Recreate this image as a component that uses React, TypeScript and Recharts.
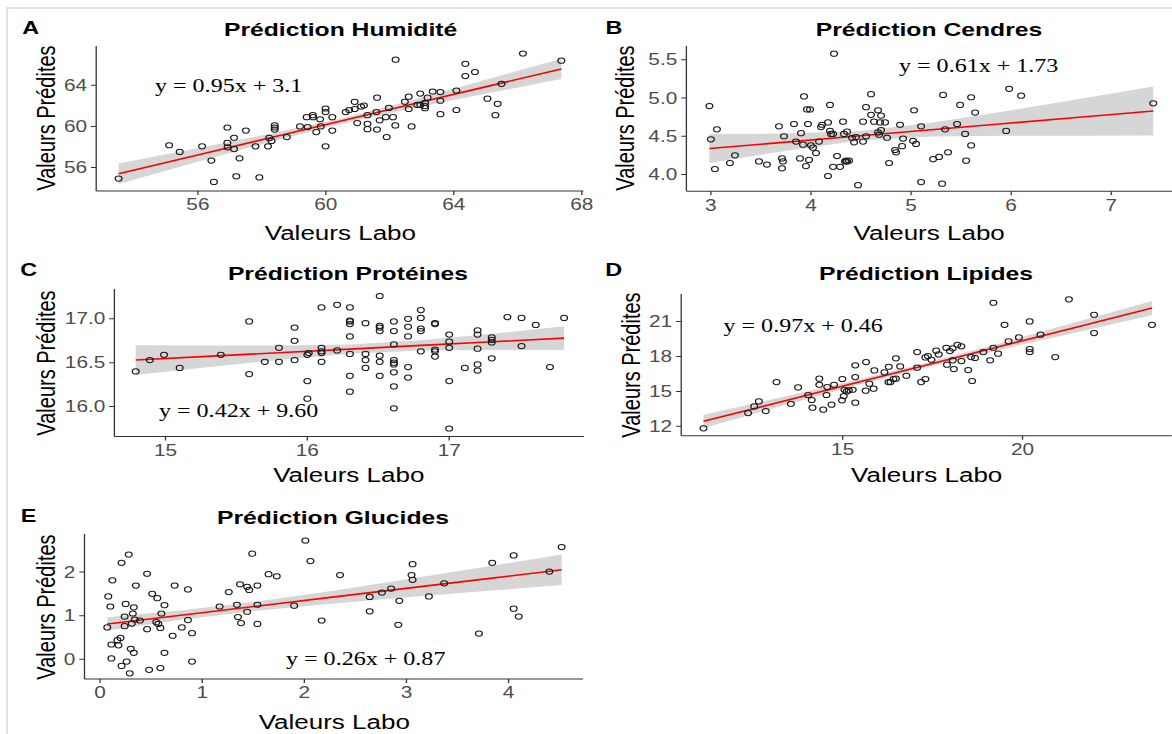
import { Area, ComposedChart, Line, Scatter, XAxis, YAxis } from "recharts";

// horizontal stretch of the whole figure (the reference is a widened image)
const SX = 1.3;
const SANS = '"Liberation Sans", Arial, sans-serif';
const SERIF = '"Liberation Serif", "Times New Roman", serif';

// [labo, predicted]
const humiditePoints = [
  [53.52, 54.93], [55.1, 58.17], [55.43, 57.52], [56.13, 58.07], [56.42, 56.68], [56.5, 54.6],
  [56.92, 59.9], [56.92, 58.4], [56.93, 57.97], [57.13, 58.9], [57.13, 57.8], [57.2, 55.15],
  [57.3, 56.9], [57.5, 59.6], [57.8, 58.07], [57.92, 55.04], [58.19, 58.07], [58.23, 58.88],
  [58.3, 58.59], [58.4, 60.1], [58.4, 59.9], [58.4, 59.7], [58.78, 58.97], [59.19, 60],
  [59.4, 60.9], [59.43, 59.94], [59.59, 61.1], [59.6, 60.9], [59.7, 59.45], [59.82, 60.7],
  [59.84, 60], [59.99, 61.75], [59.99, 61.4], [59.99, 58.07], [60.2, 60.9], [60.2, 59.6],
  [60.62, 61.4], [60.73, 61.6], [60.9, 62.4], [60.9, 61.7], [60.98, 60.33], [61.1, 61.94],
  [61.19, 62.04], [61.3, 61.1], [61.3, 60.26], [61.3, 59.74], [61.58, 61.4], [61.6, 62.8],
  [61.6, 59.7], [61.68, 60.6], [61.87, 60.9], [61.9, 58.97], [61.97, 61.8], [62.1, 60.9],
  [62.17, 60.1], [62.18, 66.5], [62.47, 62.4], [62.59, 62.9], [62.59, 61.7], [62.68, 60],
  [62.86, 62.1], [62.95, 63.2], [62.95, 62.1], [63.1, 62.3], [63.1, 61.98], [63.1, 61.78],
  [63.18, 62.8], [63.34, 63.4], [63.58, 63.35], [63.58, 62.5], [63.58, 61.2], [64.08, 63.5],
  [64.08, 61.6], [64.36, 66.1], [64.36, 64.9], [64.66, 65.3], [65.05, 62.7], [65.3, 61.1],
  [65.37, 62.2], [65.49, 64.15], [66.16, 67.1], [67.36, 66.4],
];

const cendresPoints = [
  [2.985, 4.895], [3.0, 4.46], [3.04, 4.07], [3.06, 4.59], [3.19, 4.15], [3.24, 4.25],
  [3.48, 4.17], [3.56, 4.13], [3.68, 4.63], [3.71, 4.21], [3.72, 4.17], [3.71, 4.08],
  [3.73, 4.5], [3.83, 4.66], [3.85, 4.43], [3.9, 4.54], [3.89, 4.21], [3.92, 4.39],
  [3.93, 5.02], [3.95, 4.11], [3.96, 4.85], [3.97, 4.66], [3.98, 4.19], [3.99, 4.85],
  [4.0, 4.38], [4.02, 4.35], [4.05, 4.28], [4.08, 4.43], [4.1, 4.62], [4.11, 4.65],
  [4.17, 3.98], [4.17, 4.68], [4.19, 4.91], [4.19, 4.57], [4.2, 4.53], [4.22, 4.1],
  [4.23, 5.58], [4.22, 4.53], [4.26, 4.24], [4.29, 4.1], [4.32, 4.69], [4.33, 4.53],
  [4.34, 4.17], [4.35, 4.18], [4.36, 4.56], [4.36, 4.17], [4.38, 4.18], [4.41, 4.48],
  [4.43, 4.42], [4.45, 4.49], [4.47, 3.86], [4.52, 4.43], [4.52, 4.69], [4.55, 4.5],
  [4.55, 4.88], [4.6, 5.05], [4.6, 4.78], [4.63, 4.69], [4.67, 4.84], [4.67, 4.55],
  [4.68, 4.52], [4.69, 4.68], [4.7, 4.77], [4.7, 4.58], [4.74, 4.68], [4.76, 4.48],
  [4.78, 4.15], [4.84, 4.32], [4.85, 4.29], [4.89, 4.65], [4.91, 4.37], [4.92, 4.47],
  [5.03, 4.84], [5.02, 4.44], [5.05, 4.4], [5.1, 3.9], [5.1, 4.63], [5.22, 4.2],
  [5.28, 4.23], [5.32, 5.04], [5.31, 3.88], [5.34, 4.59], [5.37, 4.29], [5.46, 4.66],
  [5.49, 4.91], [5.54, 4.53], [5.55, 4.18], [5.6, 5.01], [5.6, 4.38], [5.64, 4.81],
  [5.95, 4.57], [5.98, 5.12], [6.1, 5.03], [7.42, 4.93],
];

const proteinesPoints = [
  [14.79, 16.4], [14.89, 16.53], [14.99, 16.59], [15.1, 16.44], [15.39, 16.59], [15.59, 16.97],
  [15.59, 16.37], [15.7, 16.51], [15.8, 16.67], [15.8, 16.51], [15.91, 16.9], [15.91, 16.75],
  [15.91, 16.53], [16.0, 16.59], [16.0, 16.29], [16.0, 16.09], [16.01, 16.61], [16.1, 17.13],
  [16.1, 16.67], [16.1, 16.63], [16.1, 16.61], [16.1, 16.51], [16.21, 17.16], [16.21, 16.64],
  [16.3, 17.13], [16.3, 16.98], [16.3, 16.97], [16.3, 16.94], [16.3, 16.8], [16.3, 16.6],
  [16.3, 16.35], [16.3, 16.17], [16.41, 16.95], [16.41, 16.6], [16.41, 16.53], [16.41, 16.44],
  [16.51, 17.26], [16.51, 16.92], [16.51, 16.9], [16.51, 16.86], [16.51, 16.58], [16.51, 16.51],
  [16.51, 16.35], [16.61, 16.97], [16.61, 16.86], [16.61, 16.71], [16.61, 16.53], [16.61, 16.5],
  [16.61, 16.48], [16.61, 16.39], [16.61, 16.23], [16.61, 15.98], [16.71, 17.0], [16.71, 16.91],
  [16.71, 16.8], [16.71, 16.45], [16.71, 16.33], [16.8, 17.1], [16.8, 17.01], [16.8, 16.89],
  [16.8, 16.86], [16.8, 16.63], [16.9, 16.95], [16.9, 16.94], [16.9, 16.65], [16.9, 16.63],
  [16.9, 16.57], [17.0, 16.82], [17.0, 16.74], [17.0, 16.67], [17.0, 16.29], [17.0, 15.75],
  [17.11, 16.44], [17.2, 16.87], [17.2, 16.82], [17.2, 16.66], [17.2, 16.48], [17.2, 16.41],
  [17.3, 16.79], [17.3, 16.76], [17.3, 16.73], [17.3, 16.55], [17.41, 17.02], [17.51, 17.01],
  [17.51, 16.69], [17.61, 16.93], [17.71, 16.45], [17.81, 17.01],
];

const lipidesPoints = [
  [11.13, 11.83], [12.37, 13.14], [12.54, 13.71], [12.67, 14.14], [12.86, 13.31], [13.16, 15.8],
  [13.56, 13.94], [13.76, 15.34], [14.04, 14.69], [14.14, 14.26], [14.16, 13.6], [14.35, 16.09],
  [14.35, 15.57], [14.46, 13.43], [14.55, 14.69], [14.57, 15.37], [14.69, 13.86], [14.76, 15.57],
  [14.98, 14.23], [14.99, 16.06], [15.03, 14.6], [15.05, 15.14], [15.11, 15.0], [15.17, 15.09],
  [15.28, 15.14], [15.35, 17.23], [15.35, 16.23], [15.35, 14.03], [15.64, 15.06], [15.65, 17.51],
  [15.74, 15.66], [15.86, 15.23], [15.88, 16.8], [16.16, 16.63], [16.28, 17.11], [16.27, 15.8],
  [16.33, 15.8], [16.41, 16.06], [16.48, 17.83], [16.48, 16.09], [16.6, 17.14], [16.77, 16.34],
  [17.07, 18.37], [17.07, 17.03], [17.18, 15.8], [17.3, 17.91], [17.3, 16.06], [17.37, 18.03],
  [17.47, 17.71], [17.6, 18.49], [17.67, 18.17], [17.88, 18.74], [17.9, 17.29], [17.98, 18.46],
  [18.06, 17.66], [18.09, 16.91], [18.06, 18.69], [18.19, 19.0], [18.3, 18.86], [18.3, 17.6],
  [18.49, 16.83], [18.57, 17.94], [18.6, 15.89], [18.68, 17.86], [18.91, 18.37], [19.1, 17.66],
  [19.19, 22.6], [19.19, 18.74], [19.32, 18.23], [19.5, 20.71], [19.61, 19.29], [19.9, 19.63],
  [20.2, 21.0], [20.2, 18.63], [20.2, 18.37], [20.5, 19.86], [20.91, 17.94], [21.29, 22.89],
  [21.99, 21.57], [21.99, 20.0], [23.6, 20.71],
];

const glucidesPoints = [
  [0.07, 0.73], [0.08, 1.44], [0.1, 1.21], [0.11, 0.02], [0.11, 0.34], [0.12, 1.81],
  [0.17, 0.44], [0.18, 0.32], [0.2, 0.49], [0.21, 2.21], [0.21, -0.15], [0.24, 0.76],
  [0.24, 0.98], [0.25, 1.27], [0.26, -0.05], [0.28, 2.4], [0.29, -0.32], [0.3, 0.24],
  [0.31, 0.82], [0.32, 1.05], [0.33, 1.19], [0.33, 0.15], [0.34, 0.91], [0.35, 1.69],
  [0.39, 0.89], [0.46, 1.96], [0.46, 0.69], [0.48, -0.24], [0.51, 1.5], [0.55, 0.85],
  [0.56, 1.4], [0.57, 0.81], [0.59, 0.72], [0.59, -0.2], [0.6, 1.05], [0.63, 1.24],
  [0.63, 0.15], [0.71, 0.54], [0.73, 1.69], [0.8, 0.73], [0.86, 1.6], [0.86, 0.9],
  [0.9, 0.6], [0.9, -0.05], [1.17, 1.21], [1.26, 1.54], [1.34, 1.25], [1.35, 0.97],
  [1.37, 1.72], [1.38, 0.83], [1.44, 1.09], [1.44, 1.66], [1.46, 1.59], [1.49, 2.42],
  [1.54, 1.69], [1.54, 1.25], [1.54, 0.81], [1.65, 1.95], [1.73, 1.9], [1.9, 1.23],
  [2.01, 2.72], [2.06, 2.25], [2.17, 0.89], [2.35, 1.93], [2.64, 1.43], [2.64, 1.1],
  [2.76, 1.53], [2.85, 1.62], [2.92, 0.79], [2.93, 1.34], [3.05, 1.93], [3.06, 2.18],
  [3.06, 1.82], [3.22, 1.44], [3.37, 1.74], [3.71, 0.59], [3.84, 2.21], [4.05, 2.38],
  [4.05, 1.16], [4.1, 0.98], [4.4, 2.01], [4.52, 2.57],
];

// regression line and its confidence band: [x, fit, low, high]
const humiditeFit = [
  [53.52, 55.4, 54.4, 56.4], [55.83, 57.1, 56.41, 57.79], [58.13, 58.8, 58.39, 59.21],
  [60.44, 60.5, 60.25, 60.75], [62.75, 62.2, 61.79, 62.61], [65.05, 63.9, 63.22, 64.59],
  [67.36, 65.6, 64.61, 66.59],
];
const cendresFit = [
  [2.985, 4.34, 4.15, 4.53], [3.724, 4.42, 4.305, 4.535], [4.463, 4.503, 4.441, 4.565],
  [5.203, 4.585, 4.495, 4.675], [5.942, 4.667, 4.506, 4.828], [6.681, 4.748, 4.508, 4.988],
  [7.42, 4.83, 4.51, 5.15],
];
const proteinesFit = [
  [14.79, 16.53, 16.36, 16.7], [15.293, 16.572, 16.447, 16.697], [15.797, 16.613, 16.53, 16.696],
  [16.3, 16.655, 16.602, 16.708], [16.803, 16.697, 16.639, 16.755], [17.307, 16.738, 16.646, 16.83],
  [17.81, 16.78, 16.646, 16.914],
];
const lipidesFit = [
  [11.13, 12.43, 11.87, 12.99], [13.208, 14.048, 13.663, 14.433], [15.287, 15.667, 15.43, 15.904],
  [17.365, 17.285, 17.102, 17.468], [19.443, 18.903, 18.619, 19.187], [21.522, 20.522, 20.077, 20.967],
  [23.6, 22.14, 21.52, 22.76],
];
const glucidesFit = [
  [0.07, 0.81, 0.658, 0.962], [0.812, 1.017, 0.91, 1.124], [1.553, 1.223, 1.117, 1.329],
  [2.295, 1.43, 1.281, 1.579], [3.037, 1.637, 1.426, 1.848], [3.778, 1.843, 1.564, 2.122],
  [4.52, 2.05, 1.7, 2.4],
];

const humiditeTicksX = [56, 60, 64, 68];
const humiditeTicksY = [56, 60, 64];
const cendresTicksX = [3, 4, 5, 6, 7];
const cendresTicksY = [4.0, 4.5, 5.0, 5.5];
const proteinesTicksX = [15, 16, 17];
const proteinesTicksY = [16.0, 16.5, 17.0];
const lipidesTicksX = [15, 20];
const lipidesTicksY = [12, 15, 18, 21];
const glucidesTicksX = [0, 1, 2, 3, 4];
const glucidesTicksY = [0, 1, 2];

const panels = [
  {
    letter: "A", title: "Prédiction Humidité", equation: "y = 0.95x + 3.1",
    points: humiditePoints, fit: humiditeFit, xTicks: humiditeTicksX, yTicks: humiditeTicksY,
    xDomain: [52.82, 68.05], yDomain: [53.72, 67.83], decimals: 0,
    // plot box in page pixels: left, right, top, bottom
    box: [96.8, 584, 45.7, 190.7],
    letterPos: [30.6, 28], titlePos: [340.6, 29.3], yLabelX: 46, xLabelY: 233, eqPos: [155, 86],
  },
  {
    letter: "B", title: "Prédiction Cendres", equation: "y = 0.61x + 1.73",
    points: cendresPoints, fit: cendresFit, xTicks: cendresTicksX, yTicks: cendresTicksY,
    xDomain: [2.755, 7.607], yDomain: [3.78, 5.68], decimals: 1,
    box: [686.4, 1172, 45.7, 191],
    letterPos: [614, 28], titlePos: [929, 29], yLabelX: 625, xLabelY: 233, eqPos: [899, 66],
  },
  {
    letter: "C", title: "Prédiction Protéines", equation: "y = 0.42x + 9.60",
    points: proteinesPoints, fit: proteinesFit, xTicks: proteinesTicksX, yTicks: proteinesTicksY,
    xDomain: [14.64, 17.95], yDomain: [15.66, 17.34], decimals: 1,
    box: [114, 583.6, 289.3, 436.7],
    letterPos: [28.7, 270], titlePos: [348, 273.3], yLabelX: 45, xLabelY: 475, eqPos: [159, 411],
  },
  {
    letter: "D", title: "Prédiction Lipides", equation: "y = 0.97x + 0.46",
    points: lipidesPoints, fit: lipidesFit, xTicks: lipidesTicksX, yTicks: lipidesTicksY,
    xDomain: [10.51, 24.15], yDomain: [11.2, 23.35], decimals: 0,
    box: [681.4, 1172, 294.3, 436],
    letterPos: [613.7, 270], titlePos: [926, 273], yLabelX: 630, xLabelY: 475, eqPos: [723.5, 325.7],
  },
  {
    letter: "E", title: "Prédiction Glucides", equation: "y = 0.26x + 0.87",
    points: glucidesPoints, fit: glucidesFit, xTicks: glucidesTicksX, yTicks: glucidesTicksY,
    xDomain: [-0.153, 4.73], yDomain: [-0.45, 2.87], decimals: 0,
    box: [85, 583.6, 534.3, 679.3],
    letterPos: [28.7, 515.7], titlePos: [333, 516.7], yLabelX: 45, xLabelY: 722, eqPos: [286, 659],
  },
];

const Ring = (props: any) => (
  <circle cx={props.cx} cy={props.cy} r={2.6} fill="none" stroke="#1a1a1a" strokeWidth={1} />
);

const tickStyle = { fill: "#4d4d4d", fontSize: 16, fontFamily: SANS };

function Panel({ p }: { p: any }) {
  const yw = 50;
  const xh = 40;
  const mt = 5;
  const mr = 16;
  const pl = p.box[0] / SX;
  const pr = p.box[1] / SX;
  const pt = p.box[2];
  const pb = p.box[3];
  const width = pr - pl + yw + mr;
  const height = pb - pt + mt + xh;
  const points = p.points.map(([x, y]: number[]) => ({ x, y }));
  const fitRows = p.fit.map(([x, f, lo, hi]: number[]) => ({ x, fit: f, band: [lo, hi] }));
  const midX = (p.box[0] + p.box[1]) / 2;
  const midY = (pt + pb) / 2;

  return (
    <>
      <div style={{ position: "absolute", left: pl - yw, top: pt - mt }}>
        <ComposedChart
          width={width}
          height={height}
          data={fitRows}
          margin={{ top: mt, right: mr, bottom: 0, left: 0 }}
        >
          <XAxis
            type="number"
            dataKey="x"
            domain={p.xDomain}
            ticks={p.xTicks}
            interval={0}
            allowDataOverflow
            height={xh}
            tickSize={4}
            tickMargin={4}
            stroke="#333"
            tick={tickStyle}
          />
          <YAxis
            type="number"
            domain={p.yDomain}
            ticks={p.yTicks}
            interval={0}
            allowDataOverflow
            width={yw}
            tickSize={4}
            tickMargin={3}
            stroke="#333"
            tick={tickStyle}
            tickFormatter={(v: number) => v.toFixed(p.decimals)}
          />
          <Scatter data={points} dataKey="y" shape={Ring} isAnimationActive={false} />
          <Area
            dataKey="band"
            type="linear"
            fill="#999999"
            fillOpacity={0.4}
            stroke="none"
            isAnimationActive={false}
          />
          <Line
            dataKey="fit"
            type="linear"
            stroke="#ff0000"
            strokeWidth={1.6}
            dot={false}
            isAnimationActive={false}
          />
        </ComposedChart>
      </div>

      <div style={{ ...centered, left: p.letterPos[0] / SX, top: p.letterPos[1], fontSize: 18, fontWeight: 700 }}>
        {p.letter}
      </div>
      <div style={{ ...centered, left: p.titlePos[0] / SX, top: p.titlePos[1], fontSize: 19, fontWeight: 700 }}>
        {p.title}
      </div>
      <div
        style={{
          ...centered,
          left: p.yLabelX / SX,
          top: midY,
          fontSize: 20,
          transform: "translate(-50%, -50%) rotate(-90deg)",
        }}
      >
        Valeurs Prédites
      </div>
      <div style={{ ...centered, left: midX / SX, top: p.xLabelY, fontSize: 20 }}>Valeurs Labo</div>
      <div
        style={{
          position: "absolute",
          left: p.eqPos[0] / SX,
          top: p.eqPos[1],
          transform: "translateY(-50%)",
          fontFamily: SERIF,
          fontSize: 18.5,
          whiteSpace: "nowrap",
          color: "#000",
        }}
      >
        {p.equation}
      </div>
    </>
  );
}

const centered: any = {
  position: "absolute",
  transform: "translate(-50%, -50%)",
  whiteSpace: "nowrap",
  fontFamily: SANS,
  color: "#000",
  lineHeight: 1,
};

export default function App() {
  return (
    <div
      style={{
        position: "absolute",
        left: 0,
        top: 0,
        width: 1172,
        height: 734,
        overflow: "hidden",
        background: "#fff",
      }}
    >
      <div
        style={{
          position: "absolute",
          left: 6,
          top: 7,
          width: 1200,
          height: 800,
          borderLeft: "2px solid #e2e2e2",
          borderTop: "2px solid #e2e2e2",
        }}
      />
      <div
        style={{
          position: "absolute",
          left: 0,
          top: 0,
          width: 1172 / SX,
          height: 734,
          transform: `scaleX(${SX})`,
          transformOrigin: "0 0",
        }}
      >
        {panels.map((p) => (
          <Panel key={p.letter} p={p} />
        ))}
      </div>
    </div>
  );
}
